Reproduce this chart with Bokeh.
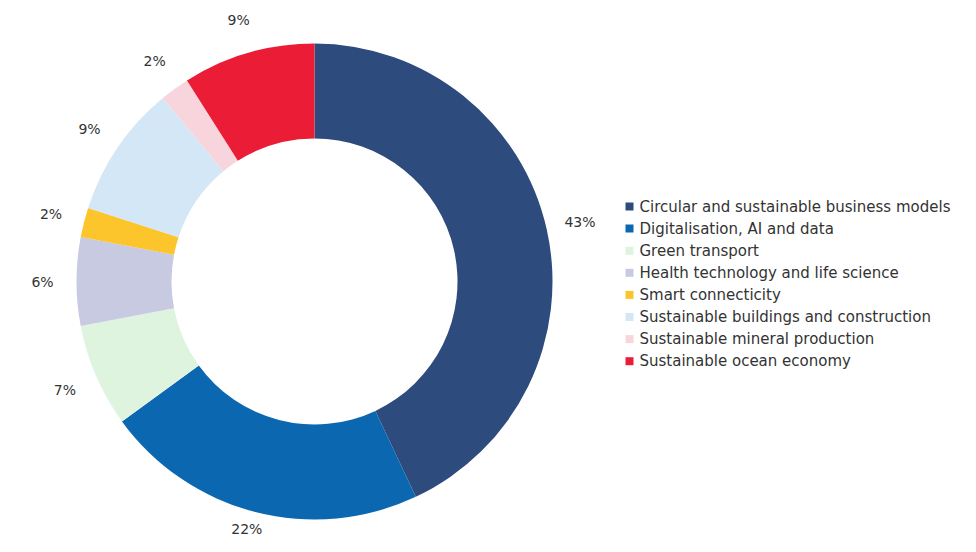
import math
from bokeh.plotting import figure
from bokeh.models import ColumnDataSource, Range1d
from bokeh.core.properties import value
from bokeh.embed import file_html
from bokeh.resources import INLINE

categories = [
    "Circular and sustainable business models",
    "Digitalisation, AI and data",
    "Green transport",
    "Health technology and life science",
    "Smart connecticity",
    "Sustainable buildings and construction",
    "Sustainable mineral production",
    "Sustainable ocean economy",
]
shares = [43, 22, 7, 6, 2, 9, 2, 9]
colors = ["#2e4b7e", "#0b68b0", "#def4df", "#c8cae2", "#fbc52b", "#d3e7f6", "#f8d5dd", "#eb1c36"]

W, H = 960, 536
cx, cy = 314, H - 281
r_out, r_in = 238, 143
r_lab = 272

total = sum(shares)
starts, ends, lx, ly, labels = [], [], [], [], []
cum = 0
for s in shares:
    a0 = math.pi / 2 - 2 * math.pi * cum / total
    cum += s
    a1 = math.pi / 2 - 2 * math.pi * cum / total
    starts.append(a0)
    ends.append(a1)
    mid = (a0 + a1) / 2
    lx.append(cx + r_lab * math.cos(mid))
    ly.append(max(cy + r_lab * math.sin(mid), 8))
    labels.append(f"{s}%")

src = ColumnDataSource(dict(start=starts, end=ends, color=colors, lx=lx, ly=ly, label=labels))

p = figure(width=W, height=H, output_backend="svg", toolbar_location=None,
           x_range=Range1d(0, W), y_range=Range1d(0, H), min_border=0)
p.axis.visible = False
p.grid.visible = False
p.outline_line_color = None
p.background_fill_color = "white"
p.border_fill_color = "white"

p.annular_wedge(x=cx, y=cy, inner_radius=r_in, outer_radius=r_out,
                start_angle="start", end_angle="end", direction="clock",
                fill_color="color", line_color=None, source=src)

p.text(x="lx", y="ly", text="label", source=src, text_align="center",
       text_baseline="middle", text_font=value("DejaVu Sans"),
       text_font_size="14px", text_color="#333333")

# legend
n = len(categories)
leg_x = [629] * n
leg_y = [H - (206 + 22.1 * i) for i in range(n)]
txt_x = [639] * n
leg = ColumnDataSource(dict(x=leg_x, y=leg_y, tx=txt_x, color=colors, label=categories))
p.rect(x="x", y="y", width=8, height=8, fill_color="color", line_color=None, source=leg)
p.text(x="tx", y="y", text="label", source=leg, text_align="left",
       text_baseline="middle", text_font=value("DejaVu Sans"),
       text_font_size="15px", text_color="#333333")

open("out.html", "w").write(file_html(p, INLINE))
